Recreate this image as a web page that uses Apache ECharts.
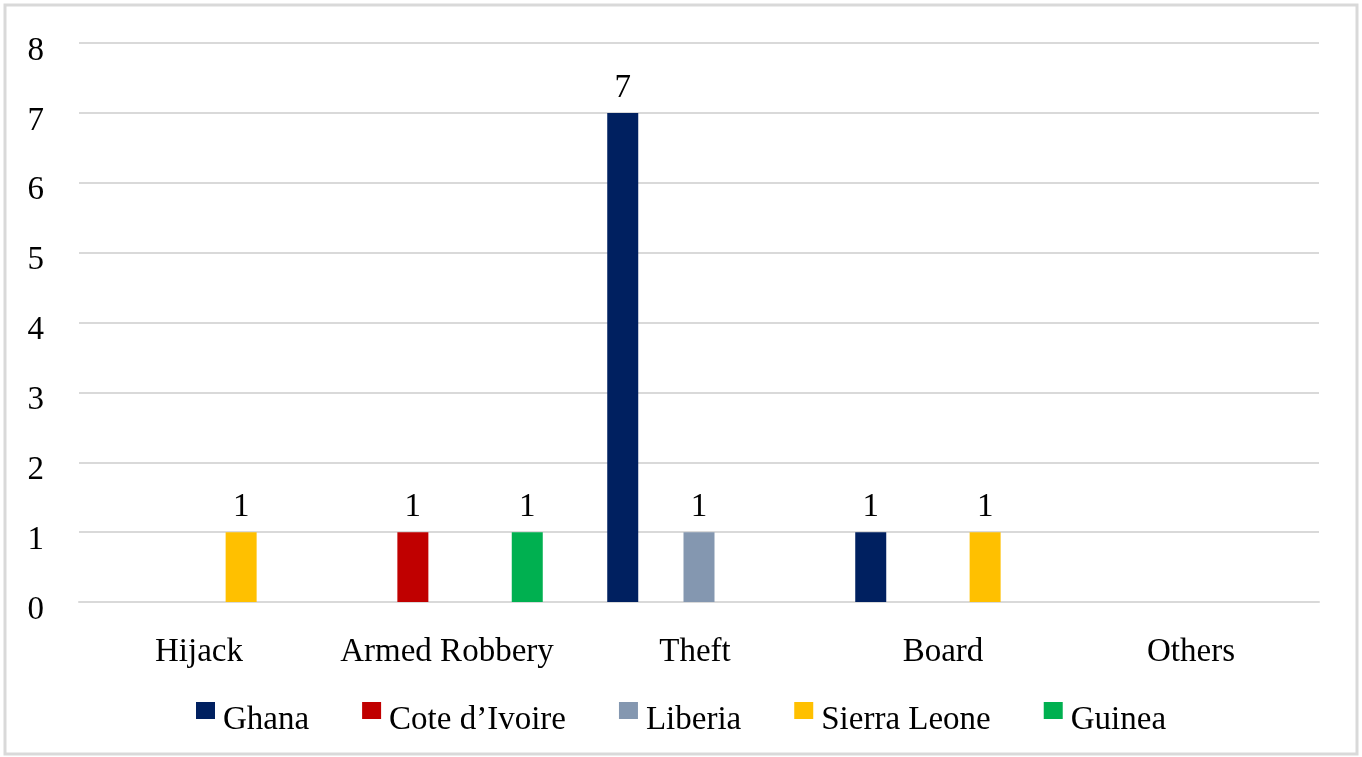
<!DOCTYPE html>
<html>
<head>
<meta charset="utf-8">
<script src="https://cdn.jsdelivr.net/npm/echarts@6/dist/echarts.min.js"></script>
<style>
  html, body { margin: 0; padding: 0; background: #fff; }
  #chart { width: 1362px; height: 757px; }
</style>
</head>
<body>
<div id="chart"></div>
<script>
// categories and series values
var categories = ['Hijack', 'Armed Robbery', 'Theft', 'Board', 'Others'];
var seriesNames = ['Ghana', 'Cote d\u2019Ivoire', 'Liberia', 'Sierra Leone', 'Guinea'];
var ghana = [null, null, 7, 1, null];
var coteDIvoire = [null, 1, null, null, null];
var liberia = [null, null, 1, null, null];
var sierraLeone = [1, null, null, 1, null];
var guinea = [null, 1, null, null, null];
var colors = ['#002060', '#C00000', '#8497B0', '#FFC000', '#00B050'];

var font = 'Liberation Serif, Times New Roman, serif';
var fs = 33;
var allData = [ghana, coteDIvoire, liberia, sierraLeone, guinea];

var series = seriesNames.map(function(name, i){
  return {
    name: name,
    type: 'bar',
    data: allData[i],
    barWidth: 31,
    barGap: '23%',
    itemStyle: { color: colors[i] },
    label: {
      show: true,
      position: 'top',
      distance: 8,
      color: '#000',
      fontFamily: font,
      fontSize: fs
    }
  };
});

var myChart = echarts.init(document.getElementById('chart'));
myChart.setOption({
  animation: false,
  backgroundColor: '#fff',
  grid: { left: 79, right: 43, top: 43, bottom: 155 },
  graphic: [{
    type: 'rect',
    shape: { x: 5, y: 5, width: 1352, height: 749 },
    style: { fill: 'none', stroke: '#d9d9d9', lineWidth: 3 },
    silent: true
  }],
  legend: {
    data: seriesNames,
    left: 'center',
    top: 697,
    itemWidth: 19,
    itemHeight: 17,
    itemGap: 53,
    icon: 'rect',
    formatter: function(name){ return '{n|' + name + '}'; },
    textStyle: {
      color: '#000',
      fontFamily: font,
      fontSize: fs,
      rich: {
        n: { color: '#000', fontFamily: font, fontSize: fs, padding: [20, 0, 0, 3] }
      }
    }
  },
  xAxis: {
    type: 'category',
    data: categories,
    axisLine: { show: true, lineStyle: { color: '#d9d9d9', width: 2 } },
    axisTick: { show: false },
    axisLabel: { interval: 0, color: '#000', fontFamily: font, fontSize: fs, margin: 34, padding: [0, 8, 0, 0] }
  },
  yAxis: {
    type: 'value',
    min: 0,
    max: 8,
    interval: 1,
    axisLine: { show: false },
    axisTick: { show: false },
    splitLine: { lineStyle: { color: '#d9d9d9', width: 2 } },
    axisLabel: {
      color: '#000', fontFamily: font, fontSize: fs, margin: 35,
      formatter: function(v){ return '{v|' + v + '}'; },
      rich: { v: { color: '#000', fontFamily: font, fontSize: fs, padding: [16, 0, 0, 0] } }
    }
  },
  series: series
});
</script>
</body>
</html>
